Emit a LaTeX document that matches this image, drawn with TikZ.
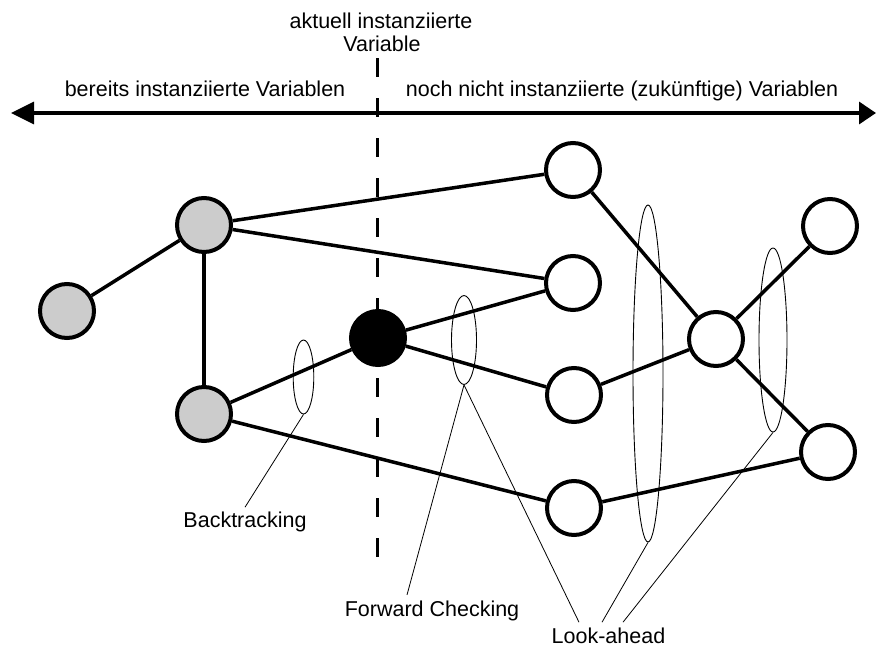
\documentclass[tikz,border=0pt]{standalone}
\usepackage{fontspec}
\setmainfont{Liberation Sans}
\usetikzlibrary{arrows.meta,shapes.geometric}
\definecolor{donegray}{RGB}{204,204,204}
\begin{document}
\begin{tikzpicture}[x=1pt,y=-1pt,
  lbl/.style={font=\fontsize{21.5}{23.4}\selectfont, inner sep=0pt, anchor=base},
  var/.style={circle, draw, line width=4pt, minimum size=54pt, inner sep=0pt},
  done/.style={var, fill=donegray},
  current/.style={var, fill=black},
  future/.style={var, fill=white},
  edge/.style={line width=3.5pt},
  divider/.style={line width=3pt, dash pattern=on 19pt off 21pt},
  axis/.style={line width=3.5pt, {Triangle[length=23pt,width=22pt]}-{Triangle[length=17pt,width=22pt]}},
  group/.style={ellipse, draw, line width=0.9pt, inner sep=0pt},
  leader/.style={line width=0.8pt}]
\useasboundingbox (0,0) rectangle (876,648);

% divider between past and future variables
\coordinate (dtop) at (377,58);
\coordinate (dbot) at (377,557);
\draw[divider] (dtop) -- (dbot);

% time axis
\coordinate (al) at (11,113);
\coordinate (ar) at (876,113);
\draw[axis] (al) -- (ar);

% headings
\node[lbl] (cur) at (381,28.3) {aktuell instanziierte};
\node[lbl] (cur2) at (382,51.7) {Variable};
\node[lbl] (past) at (205,96) {bereits instanziierte Variablen};
\node[lbl] (fut) at (622,96) {noch nicht instanziierte (zukünftige) Variablen};

% variables
\node[done] (g1) at (67,311) {};
\node[done] (g2) at (204,225) {};
\node[done] (g3) at (204,414) {};
\node[current] (b) at (378,338) {};
\node[future] (w1) at (573,170) {};
\node[future] (w2) at (573,283) {};
\node[future] (w3) at (574,395) {};
\node[future] (w4) at (574,508) {};
\node[future] (w5) at (716,339) {};
\node[future] (w6) at (830,226) {};
\node[future] (w7) at (828,452) {};

% constraints
\draw[edge] (g1) -- (g2);
\draw[edge] (g2) -- (g3);
\draw[edge] (g2) -- (w1);
\draw[edge] (g2) -- (w2);
\draw[edge] (g3) -- (b);
\draw[edge] (g3) -- (w4);
\draw[edge] (b) -- (w2);
\draw[edge] (b) -- (w3);
\draw[edge] (w1) -- (w5);
\draw[edge] (w3) -- (w5);
\draw[edge] (w5) -- (w6);
\draw[edge] (w5) -- (w7);
\draw[edge] (w4) -- (w7);

% checked constraint groups
\node[group, minimum width=20.6pt, minimum height=74pt] (e1) at (303.5,377) {};
\node[group, minimum width=25pt, minimum height=89pt] (e2) at (464,340) {};
\node[group, minimum width=30pt, minimum height=337pt] (e3) at (648,373.5) {};
\node[group, minimum width=28pt, minimum height=184pt] (e4) at (773,340) {};

% method labels
\node[lbl] (bt) at (245,527) {Backtracking};
\node[lbl] (fc) at (432,616.7) {Forward Checking};
\node[lbl] (la) at (608.5,643) {Look-ahead};

\draw[leader] (e1.south) -- ([yshift=4pt]bt.north);
\draw[leader] (e2.south) -- ([xshift=-25pt,yshift=6pt]fc.north);
\draw[leader] (e2.south) -- ([xshift=-29.5pt,yshift=5pt]la.north);
\draw[leader] (e3.south) -- ([xshift=-6.5pt,yshift=5pt]la.north);
\draw[leader] (e4.south) -- ([xshift=14.5pt,yshift=5pt]la.north);
\end{tikzpicture}
\end{document}
